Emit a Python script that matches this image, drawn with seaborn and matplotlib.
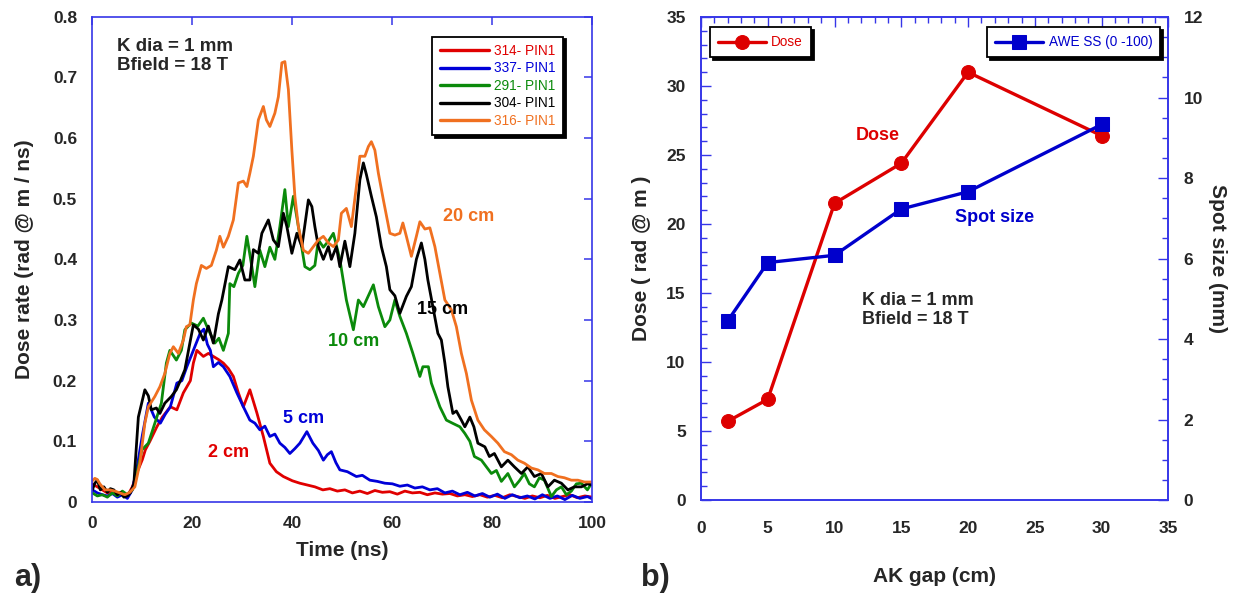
import numpy as np
import pandas as pd
import matplotlib
matplotlib.use("Agg")
import matplotlib.pyplot as plt
from matplotlib.ticker import MultipleLocator
import seaborn as sns

# ---------------- Panel a) data: dose rate vs time ----------------
t_red = [0, 1, 2, 3, 4, 5, 6, 7, 8, 9, 10, 10.6, 11.5, 12.9, 14, 15.6, 16.9, 18.2, 19.6, 20.2,
         20.9, 22.2, 23.2, 24.2, 25.2, 26.2, 27.2, 28.2, 29.2, 30.2, 31.5, 32.9, 34.2, 35.5, 36.8,
         38.2, 40, 41.5, 43, 44.5, 46.1, 47.5, 49, 50.5, 52, 53.5, 55, 56.5, 58, 59.5, 61, 62.5,
         64, 65.5, 67, 68.5, 70, 71.5, 73, 74.5, 76, 77.5, 79, 80.5, 82, 83.5, 85, 86.5, 88, 89.5,
         91, 92.5, 94, 95.5, 97, 98.5, 100]
v_red = [0.03, 0.025, 0.02, 0.015, 0.018, 0.012, 0.016, 0.01, 0.025, 0.05, 0.07, 0.086, 0.1, 0.124,
         0.14, 0.157, 0.152, 0.18, 0.2, 0.229, 0.25, 0.24, 0.245, 0.24, 0.235, 0.229, 0.22, 0.207,
         0.18, 0.157, 0.185, 0.147, 0.108, 0.064, 0.05, 0.042, 0.035, 0.031, 0.028, 0.025, 0.02,
         0.022, 0.018, 0.02, 0.015, 0.018, 0.014, 0.019, 0.016, 0.017, 0.013, 0.018, 0.015, 0.016,
         0.012, 0.015, 0.013, 0.014, 0.01, 0.012, 0.009, 0.012, 0.008, 0.011, 0.007, 0.012, 0.009,
         0.006, 0.01, 0.007, 0.011, 0.006, 0.009, 0.012, 0.007, 0.01, 0.008]

t_blue = [0, 1, 2, 3, 4, 5, 6, 7, 8, 9, 10, 11.2, 12.4, 13.6, 14.6, 15.6, 16.9, 17.9, 18.9, 20.2,
          21.6, 22.3, 23, 23.6, 24.2, 25.2, 26.2, 27.5, 28.9, 30.2, 31.5, 32.5, 33.5, 34.5, 35.5,
          36.5, 37.5, 38.5, 39.5, 40.5, 41.5, 42.9, 44.1, 45.2, 46.2, 47, 47.8, 48.7, 49.5, 51,
          52.8, 54, 55.5, 57, 58.5, 60, 61.5, 63, 64.5, 66, 67.5, 69, 70.5, 72, 73.5, 75, 76.5, 78,
          79.5, 81, 82.5, 84, 85.5, 87, 88.5, 90, 91.5, 93, 94.5, 96, 97.5, 99, 100]
v_blue = [0.02, 0.015, 0.012, 0.01, 0.014, 0.008, 0.012, 0.006, 0.02, 0.06, 0.11, 0.163, 0.14, 0.13,
          0.145, 0.157, 0.196, 0.2, 0.223, 0.25, 0.279, 0.285, 0.26, 0.25, 0.223, 0.23, 0.223,
          0.207, 0.18, 0.157, 0.135, 0.13, 0.119, 0.125, 0.108, 0.112, 0.097, 0.09, 0.08, 0.088,
          0.097, 0.116, 0.097, 0.085, 0.069, 0.078, 0.083, 0.065, 0.053, 0.05, 0.042, 0.044, 0.036,
          0.034, 0.031, 0.03, 0.026, 0.028, 0.023, 0.025, 0.02, 0.022, 0.015, 0.018, 0.012, 0.016,
          0.01, 0.014, 0.008, 0.013, 0.006, 0.012, 0.007, 0.01, 0.005, 0.012, 0.006, 0.01, 0.004,
          0.011, 0.006, 0.009, 0.005]

t_green = [0, 1, 2, 3, 4, 5, 6, 7, 8, 8.5, 9.9, 11.2, 12.5, 13.8, 14.8, 15.5, 16.8, 17.8, 18.5,
           19.8, 21.1, 22.2, 23.2, 24.5, 25.3, 26.2, 27.2, 27.5, 28.3, 29.2, 30.1, 30.9, 31.9, 32.5,
           33.5, 34.5, 35.5, 36.5, 37.5, 38.5, 39.2, 40.2, 41.2, 42.5, 43.5, 44.5, 45.2, 46.2, 47.2,
           48.2, 49.5, 50.8, 52.2, 53.2, 54.2, 55.2, 56.2, 57.2, 58.5, 59.5, 60.5, 61.5, 62.8, 64.1,
           65.5, 66.1, 67.2, 67.8, 69.5, 70.8, 72, 73.5, 74.5, 75.5, 76.4, 77.8, 78.8, 79.8, 80.8,
           81.8, 83.1, 84.4, 85.4, 86.4, 87.4, 88.4, 89.4, 90.4, 91.8, 92.8, 93.8, 94.8, 95.8, 96.8,
           97.8, 99, 100]
v_green = [0.015, 0.01, 0.012, 0.008, 0.015, 0.01, 0.018, 0.012, 0.02, 0.031, 0.086, 0.097, 0.13,
           0.163, 0.229, 0.25, 0.234, 0.25, 0.284, 0.295, 0.29, 0.303, 0.284, 0.262, 0.27, 0.25,
           0.278, 0.36, 0.355, 0.377, 0.39, 0.438, 0.388, 0.355, 0.415, 0.388, 0.42, 0.4, 0.454,
           0.515, 0.454, 0.504, 0.454, 0.388, 0.383, 0.39, 0.432, 0.42, 0.43, 0.443, 0.4, 0.333,
           0.284, 0.333, 0.322, 0.34, 0.358, 0.322, 0.289, 0.3, 0.333, 0.306, 0.278, 0.245, 0.207,
           0.223, 0.223, 0.196, 0.157, 0.135, 0.13, 0.124, 0.113, 0.1, 0.075, 0.069, 0.058, 0.047,
           0.052, 0.034, 0.047, 0.025, 0.035, 0.047, 0.03, 0.025, 0.04, 0.036, 0.009, 0.02, 0.025,
           0.012, 0.018, 0.03, 0.031, 0.02, 0.033]

t_black = [0, 0.5, 1, 1.6, 2.3, 3, 3.6, 4.3, 5, 5.6, 6.3, 7, 7.6, 8.3, 9.2, 10.5, 11.2, 11.8, 12.8,
           13.5, 14.5, 15.8, 16.8, 17.6, 18.5, 19.5, 20.2, 21.2, 22.2, 23.2, 24.2, 25.2, 25.9, 27.2,
           28.5, 29.5, 30.5, 31.5, 32.2, 33.2, 33.9, 35.2, 36.2, 37.2, 38.2, 38.9, 39.9, 40.9, 41.9,
           43.2, 43.9, 44.5, 45.2, 46.2, 47.2, 47.8, 48.8, 49.5, 50.5, 51.5, 52.5, 53.5, 54.2, 54.8,
           55.8, 56.8, 57.8, 58.8, 59.5, 60.5, 61.5, 62.8, 63.8, 64.8, 65.8, 66.5, 67.1, 68.1, 69.1,
           69.8, 70.5, 71.1, 72.1, 72.8, 73.8, 74.5, 75.5, 76.3, 77.1, 78.5, 79.4, 80.4, 81.8, 83.1,
           84.4, 85.8, 87.1, 88.4, 89.8, 91.1, 92.4, 93.8, 95.1, 96.4, 97.8, 99, 100]
v_black = [0.02, 0.031, 0.036, 0.02, 0.025, 0.016, 0.022, 0.02, 0.012, 0.016, 0.008, 0.01, 0.015,
           0.03, 0.14, 0.185, 0.175, 0.152, 0.155, 0.146, 0.163, 0.174, 0.185, 0.2, 0.218, 0.262,
           0.292, 0.285, 0.267, 0.29, 0.262, 0.31, 0.333, 0.388, 0.383, 0.399, 0.366, 0.366, 0.416,
           0.41, 0.443, 0.465, 0.432, 0.421, 0.476, 0.454, 0.41, 0.443, 0.421, 0.498, 0.487, 0.454,
           0.421, 0.4, 0.421, 0.4, 0.421, 0.388, 0.43, 0.388, 0.443, 0.531, 0.559, 0.54, 0.504,
           0.47, 0.421, 0.388, 0.35, 0.34, 0.311, 0.339, 0.355, 0.4, 0.427, 0.4, 0.366, 0.322,
           0.278, 0.267, 0.229, 0.19, 0.146, 0.15, 0.135, 0.124, 0.14, 0.124, 0.097, 0.091, 0.075,
           0.08, 0.058, 0.069, 0.058, 0.047, 0.058, 0.042, 0.047, 0.025, 0.036, 0.031, 0.02, 0.025,
           0.025, 0.03, 0.028]

t_orange = [0, 0.5, 1, 1.5, 2.5, 3.5, 4.5, 5.5, 6.5, 7.5, 8.5, 9.5, 10.5, 11.2, 12.5, 13.5, 14.5,
            15.5, 16.2, 17.2, 18.2, 18.8, 19.5, 20.2, 20.8, 21.8, 22.8, 23.8, 24.8, 25.5, 26.2,
            27.2, 28.2, 29.2, 30.2, 30.9, 31.5, 32.2, 33.2, 34.2, 34.8, 35.5, 36.5, 37.2, 37.9,
            38.5, 39.2, 39.9, 40.5, 41.2, 42.2, 43.2, 44.2, 45.2, 46.2, 47.2, 48.2, 49.2, 49.8,
            50.8, 51.8, 52.8, 53.5, 54.5, 55.2, 55.8, 56.5, 57.2, 58.2, 59.5, 60.5, 61.5, 62.1,
            62.8, 63.8, 64.8, 65.5, 66.5, 67.5, 68.5, 69.5, 70.5, 71.8, 72.8, 73.8, 74.8, 75.8,
            77.1, 78.4, 79.8, 81.1, 82.4, 83.8, 85.1, 86.4, 87.8, 89.1, 90.4, 91.8, 93.1, 94.4,
            95.8, 97.1, 98.4, 100]
v_orange = [0.035, 0.039, 0.037, 0.03, 0.02, 0.02, 0.018, 0.015, 0.012, 0.016, 0.025, 0.064, 0.13,
            0.157, 0.174, 0.19, 0.212, 0.245, 0.256, 0.245, 0.267, 0.289, 0.292, 0.333, 0.36, 0.39,
            0.385, 0.39, 0.415, 0.438, 0.42, 0.438, 0.465, 0.526, 0.529, 0.52, 0.542, 0.57, 0.63,
            0.652, 0.63, 0.619, 0.641, 0.668, 0.724, 0.726, 0.68, 0.58, 0.504, 0.454, 0.415, 0.41,
            0.421, 0.432, 0.438, 0.427, 0.421, 0.432, 0.476, 0.484, 0.454, 0.52, 0.57, 0.57, 0.586,
            0.594, 0.58, 0.542, 0.498, 0.443, 0.44, 0.443, 0.46, 0.438, 0.405, 0.438, 0.462, 0.45,
            0.452, 0.421, 0.377, 0.333, 0.317, 0.289, 0.245, 0.212, 0.168, 0.135, 0.119, 0.108,
            0.097, 0.083, 0.078, 0.069, 0.064, 0.056, 0.053, 0.047, 0.047, 0.042, 0.04, 0.036,
            0.036, 0.033, 0.033]

shot_labels = ["314- PIN1", "337- PIN1", "291- PIN1", "304- PIN1", "316- PIN1"]
gap_labels = ["2 cm", "5 cm", "10 cm", "15 cm", "20 cm"]

# ---------------- Panel b) data: dose and spot size vs AK gap ----------------
ak_gap = [2, 5, 10, 15, 20, 30]
dose = [5.7, 7.3, 21.5, 24.4, 31.0, 26.4]
spot_size = [4.45, 5.9, 6.08, 7.23, 7.66, 9.33]

# ---------------- style ----------------
sns.set_style("white")
plt.rcParams['font.family'] = ['Liberation Sans', 'DejaVu Sans']
plt.rcParams['axes.unicode_minus'] = False

AXC = '#3636e8'
c_red, c_blue, c_green, c_black, c_orange = '#e00000', '#0000d8', '#0b8a0b', '#000000', '#f07020'
colors = [c_red, c_blue, c_green, c_black, c_orange]

fig = plt.figure(figsize=(12.38, 6.01), dpi=100)
ax1 = fig.add_axes([0.0746, 0.1647, 0.4039, 0.8075])
ax3 = fig.add_axes([0.5662, 0.168, 0.3776, 0.8037])

# ---- panel a ----
series = [(t_red, v_red), (t_blue, v_blue), (t_green, v_green), (t_black, v_black), (t_orange, v_orange)]
for (t, v), lab, col in zip(series, shot_labels, colors):
    sns.lineplot(x=t, y=v, ax=ax1, color=col, lw=2.0, label=lab, estimator=None, sort=False)

ax1.set_xlim(0, 100)
ax1.set_ylim(0, 0.8)
ax1.set_xticks(np.arange(0, 101, 20))
ax1.set_xticklabels(["0", "20", "40", "60", "80", "100"])
ax1.set_yticks(np.arange(0, 0.81, 0.1))
ax1.set_yticklabels(["0", "0.1", "0.2", "0.3", "0.4", "0.5", "0.6", "0.7", "0.8"])
ax1.tick_params(direction='in', length=6, width=1.1, color=AXC, top=True, right=True,
                labelsize=12.5)
ax1.tick_params(axis='x', pad=10)
ax1.tick_params(axis='y', pad=11)
for lab in ax1.get_xticklabels() + ax1.get_yticklabels():
    lab.set_fontweight('bold')
for sp in ax1.spines.values():
    sp.set_color(AXC)
    sp.set_linewidth(1.2)

ax1.set_xlabel("Time (ns)", fontsize=15, fontweight='bold', va='center')
ax1.xaxis.set_label_coords(0.5, -0.099)
ax1.set_ylabel("Dose rate (rad @ m / ns)", fontsize=15, fontweight='bold', va='center')
ax1.yaxis.set_label_coords(-0.135, 0.5)

ax1.text(4.9, 0.765, "K dia = 1 mm\nBfield = 18 T", fontsize=13.5, fontweight='bold',
         va='top', ha='left', linespacing=1.15)

label_pos = [(23.2, 0.081), (38.2, 0.137), (47.1, 0.264), (64.9, 0.317), (70.1, 0.47)]
for (x, y), txt, col in zip(label_pos, gap_labels, colors):
    ax1.text(x, y, txt, color=col, fontsize=13, fontweight='bold', va='center', ha='left')

leg = ax1.legend(loc='upper right', bbox_to_anchor=(0.942, 0.959), borderaxespad=0,
                 fontsize=9.8, handlelength=3.6, handletextpad=0.4, labelspacing=0.25,
                 borderpad=0.55, frameon=True, fancybox=False, edgecolor='black',
                 shadow={'color': 'black', 'alpha': 1})
leg.get_frame().set_linewidth(1.3)
for txt, col in zip(leg.get_texts(), colors):
    txt.set_color(col)
for h in leg.get_lines():
    h.set_linewidth(2.4)

# ---- panel b ----
sns.lineplot(x=ak_gap, y=dose, ax=ax3, color='#dd0000', lw=2.4, marker='o', markersize=10,
             markeredgecolor='#dd0000', label='Dose', estimator=None, sort=False)
ax4 = ax3.twinx()
sns.lineplot(x=ak_gap, y=spot_size, ax=ax4, color='#0000cc', lw=2.4, marker='s', markersize=10,
             markeredgecolor='#0000cc', label='AWE SS (0 -100)', estimator=None, sort=False)

ax3.set_xlim(0, 35)
ax3.set_ylim(0, 35)
ax4.set_ylim(0, 12)
ax3.xaxis.set_major_locator(MultipleLocator(5))
ax3.xaxis.set_minor_locator(MultipleLocator(1))
ax3.yaxis.set_major_locator(MultipleLocator(5))
ax3.yaxis.set_minor_locator(MultipleLocator(1))
ax4.yaxis.set_major_locator(MultipleLocator(2))
ax4.yaxis.set_minor_locator(MultipleLocator(0.5))
ax3.tick_params(which='both', direction='in', color=AXC, top=True, right=False, width=1.0)
ax3.tick_params(which='major', length=7, labelsize=12.5)
ax3.tick_params(axis='x', which='major', pad=15)
ax3.tick_params(axis='y', which='major', pad=11)
ax3.tick_params(which='minor', length=4)
ax4.tick_params(which='both', direction='in', color=AXC, width=1.0)
ax4.tick_params(which='major', length=7, labelsize=12.5, pad=11)
ax4.tick_params(which='minor', length=4)
for lab in ax3.get_xticklabels() + ax3.get_yticklabels() + ax4.get_yticklabels():
    lab.set_fontweight('bold')
for a in (ax3, ax4):
    for sp in a.spines.values():
        sp.set_color(AXC)
        sp.set_linewidth(1.2)

ax3.set_xlabel("AK gap (cm)", fontsize=15, fontweight='bold', va='center')
ax3.xaxis.set_label_coords(0.5, -0.159)
ax3.set_ylabel("Dose ( rad @ m )", fontsize=15, fontweight='bold', va='center')
ax3.yaxis.set_label_coords(-0.128, 0.5)
ax4.set_ylabel("Spot size (mm)", fontsize=15, fontweight='bold', rotation=270, va='center')
ax4.yaxis.set_label_coords(1.105, 0.5)

ax3.text(13.2, 26.4, "Dose", color='#dd0000', fontsize=13, fontweight='bold', ha='center', va='center')
ax3.text(22.0, 20.5, "Spot size", color='#0000cc', fontsize=13, fontweight='bold', ha='center', va='center')
ax3.text(12.05, 15.1, "K dia = 1 mm\nBfield = 18 T", fontsize=13, fontweight='bold',
         ha='left', va='top', linespacing=1.15)

leg3 = ax3.legend(loc='upper left', bbox_to_anchor=(0.019, 0.979), borderaxespad=0,
                  fontsize=9.8, handlelength=3.5, handletextpad=0.4, borderpad=0.6,
                  frameon=True, fancybox=False, edgecolor='black',
                  shadow={'color': 'black', 'alpha': 1})
leg3.get_frame().set_linewidth(1.3)
leg3.get_texts()[0].set_color('#dd0000')
leg4 = ax4.legend(loc='upper right', bbox_to_anchor=(0.983, 0.979), borderaxespad=0,
                  fontsize=9.8, handlelength=3.5, handletextpad=0.4, borderpad=0.6,
                  frameon=True, fancybox=False, edgecolor='black',
                  shadow={'color': 'black', 'alpha': 1})
leg4.get_frame().set_linewidth(1.3)
leg4.get_texts()[0].set_color('#0000cc')

fig.text(28 / 1238, 1 - 578 / 601, "a)", fontsize=22, fontweight='bold', ha='center', va='center')
fig.text(655 / 1238, 1 - 578 / 601, "b)", fontsize=22, fontweight='bold', ha='center', va='center')

fig.savefig("out.png", dpi=100)
